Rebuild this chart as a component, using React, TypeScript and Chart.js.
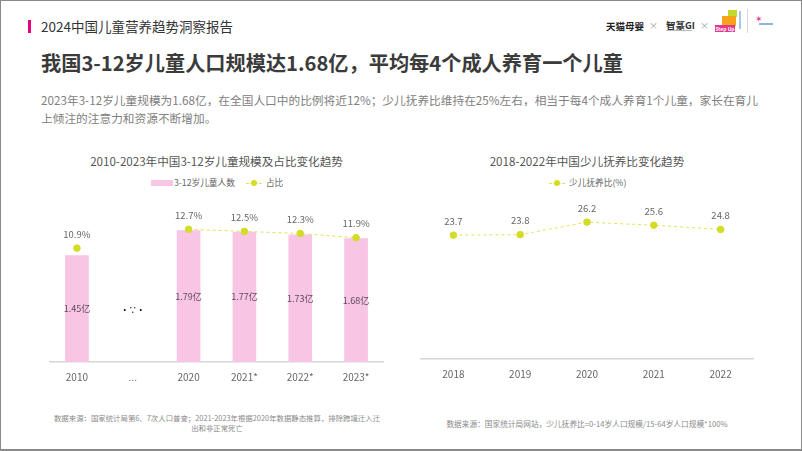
import React, { useEffect, useRef } from "react";
import { Chart, registerables } from "chart.js";

Chart.register(...registerables);

const FONT = "'Noto Sans CJK SC', 'Noto Sans', sans-serif";

// Left chart data
const leftCategories = ["2010", "...", "2020", "2021*", "2022*", "2023*"];
const childrenPopulation = [1.45, null, 1.79, 1.77, 1.73, 1.68]; // 亿
const childrenShare = [10.9, null, 12.7, 12.5, 12.3, 11.9]; // %

// Right chart data
const rightCategories = ["2018", "2019", "2020", "2021", "2022"];
const dependencyRatio = [23.7, 23.8, 26.2, 25.6, 24.8];

const PINK = "#f9c5e5";
const LIME = "#d3dc26";
const LIME_LINE = "#dde35a";

const valueLabels = {
  id: "valueLabels",
  afterDatasetsDraw(chart: any) {
    const ctx = chart.ctx;
    ctx.save();
    chart.data.datasets.forEach((ds: any, di: number) => {
      const meta = chart.getDatasetMeta(di);
      if (meta.hidden) return;
      let lastLabelY: number | null = null;
      meta.data.forEach((el: any, i: number) => {
        const v = ds.data[i];
        if (v === null || v === undefined) {
          if (ds.gapMark && lastLabelY !== null) {
            ctx.font = `bold 8px ${FONT}`;
            ctx.fillStyle = "#111";
            ctx.textAlign = "center";
            ctx.textBaseline = "middle";
            ctx.fillText(ds.gapMark, el.x, lastLabelY + 1);
          }
          return;
        }
        const text = ds.labelFormat ? ds.labelFormat(v) : String(v);
        ctx.textAlign = "center";
        ctx.textBaseline = "middle";
        if (ds.labelMode === "center") {
          const y = (el.y + el.base) / 2;
          lastLabelY = y;
          ctx.font = `9px ${FONT}`;
          ctx.fillStyle = "#5b4a5b";
          ctx.fillText(text, el.x, y);
        } else {
          ctx.font = `9.5px ${FONT}`;
          ctx.fillStyle = "#666";
          ctx.fillText(text, el.x, el.y - 14);
        }
      });
    });
    ctx.restore();
  },
};

function LeftChart() {
  const ref = useRef<HTMLCanvasElement>(null);
  useEffect(() => {
    const chart = new Chart(ref.current as HTMLCanvasElement, {
      type: "bar",
      data: {
        labels: leftCategories,
        datasets: [
          {
            type: "line",
            label: "占比",
            data: childrenShare,
            yAxisID: "y2",
            borderColor: LIME_LINE,
            borderWidth: 1,
            borderDash: [3, 3],
            pointRadius: 3.3,
            pointBackgroundColor: LIME,
            pointBorderColor: LIME,
            pointBorderWidth: 1,
            spanGaps: false,
            order: 0,
            labelMode: "top",
            labelFormat: (v: number) => v.toFixed(1) + "%",
          } as any,
          {
            type: "bar",
            label: "3-12岁儿童人数",
            data: childrenPopulation,
            yAxisID: "y",
            backgroundColor: PINK,
            barThickness: 23,
            order: 1,
            labelMode: "center",
            labelFormat: (v: number) => v.toFixed(2) + "亿",
            gapMark: "·∵·",
          } as any,
        ],
      },
      options: {
        animation: false,
        responsive: true,
        maintainAspectRatio: false,
        layout: { padding: 0, autoPadding: false },
        plugins: { legend: { display: false }, title: { display: false }, tooltip: { enabled: false } },
        scales: {
          x: {
            offset: true,
            grid: { display: false, drawTicks: false },
            border: { display: true, color: "#d6d6d6", width: 1.5 },
            ticks: { color: "#666", font: { size: 10, family: FONT }, padding: 9 },
          },
          y: { display: false, min: 0, max: 2.26 },
          y2: { display: false, min: 0, max: 15.89, position: "right" },
        },
      },
      plugins: [valueLabels],
    });
    return () => chart.destroy();
  }, []);
  return <canvas ref={ref} />;
}

function RightChart() {
  const ref = useRef<HTMLCanvasElement>(null);
  useEffect(() => {
    const chart = new Chart(ref.current as HTMLCanvasElement, {
      type: "line",
      data: {
        labels: rightCategories,
        datasets: [
          {
            label: "少儿抚养比(%)",
            data: dependencyRatio,
            borderColor: LIME_LINE,
            borderWidth: 1,
            borderDash: [3, 3],
            pointRadius: 3.3,
            pointBackgroundColor: LIME,
            pointBorderColor: LIME,
            pointBorderWidth: 1,
            labelMode: "top",
            labelFormat: (v: number) => v.toFixed(1),
          } as any,
        ],
      },
      options: {
        animation: false,
        responsive: true,
        maintainAspectRatio: false,
        layout: { padding: 0, autoPadding: false },
        plugins: { legend: { display: false }, title: { display: false }, tooltip: { enabled: false } },
        scales: {
          x: {
            offset: true,
            grid: { display: false, drawTicks: false },
            border: { display: true, color: "#d6d6d6", width: 1.5 },
            ticks: { color: "#666", font: { size: 10, family: FONT }, padding: 9 },
          },
          y: { display: false, min: 0, max: 31.2 },
        },
      },
      plugins: [valueLabels],
    });
    return () => chart.destroy();
  }, []);
  return <canvas ref={ref} />;
}

const abs = (s: React.CSSProperties): React.CSSProperties => ({ position: "absolute", ...s });

function LineSymbol() {
  return (
    <span style={{ position: "relative", display: "inline-block", width: 16, height: 8, marginRight: 4, verticalAlign: "middle" }}>
      <span style={abs({ left: 0, right: 0, top: 3.5, borderTop: `1px dashed ${LIME_LINE}` })} />
      <span style={abs({ left: 5, top: 1, width: 6, height: 6, borderRadius: 3, background: LIME })} />
    </span>
  );
}

export default function App() {
  return (
    <div
      style={abs({
        left: 0,
        top: 0,
        width: 802,
        height: 451,
        boxSizing: "border-box",
        border: "1px solid #8a8a8a",
        borderBottomWidth: 2,
        background: "#fff",
        fontFamily: FONT,
        overflow: "hidden",
      })}
    >
      {/* header */}
      <div style={abs({ left: 27, top: 19, width: 3, height: 13, background: "#e4007f" })} />
      <div style={abs({ left: 40, top: 15, fontSize: 13.5, color: "#333", lineHeight: "20px", whiteSpace: "nowrap" })}>
        2024中国儿童营养趋势洞察报告
      </div>

      {/* logos */}
      <div style={abs({ left: 605, top: 18, fontSize: 9.5, fontWeight: 700, color: "#222", lineHeight: "14px", whiteSpace: "nowrap" })}>天猫母婴</div>
      <div style={abs({ left: 648, top: 18, fontSize: 9, color: "#999", lineHeight: "14px" })}>×</div>
      <div style={abs({ left: 665, top: 17, fontSize: 9.5, fontWeight: 700, color: "#333", lineHeight: "14px", whiteSpace: "nowrap" })}>智篆GI</div>
      <div style={abs({ left: 665, top: 29, width: 26, height: 1, background: "#bbb" })} />
      <div style={abs({ left: 699, top: 18, fontSize: 9, color: "#999", lineHeight: "14px" })}>×</div>
      <div style={abs({ left: 727, top: 9, width: 9, height: 7, background: "#c6d82e" })} />
      <div style={abs({ left: 721, top: 15, width: 14, height: 10, background: "#f7a21b" })} />
      <div style={abs({ left: 714, top: 24, width: 20, height: 7, background: "#e6358b", color: "#fff", fontSize: 5, lineHeight: "7px", fontWeight: 700, textAlign: "center", whiteSpace: "nowrap" })}>Step Up</div>
      <div style={abs({ left: 738, top: 10, width: 2, height: 18, background: "#a7c8e8" })} />
      <div style={abs({ left: 746, top: 8, width: 1, height: 24, background: "#d8d8d8" })} />
      <div style={abs({ left: 754, top: 13, fontSize: 9, color: "#e6358b", lineHeight: "10px" })}>✶</div>
      <div style={abs({ left: 758, top: 22, width: 14, height: 1.5, background: "#8fb5dd" })} />

      {/* heading */}
      <div style={abs({ left: 40, top: 47, fontSize: 20.2, fontWeight: 700, color: "#3b3b3b", lineHeight: "30px", whiteSpace: "nowrap" })}>
        我国3-12岁儿童人口规模达1.68亿，平均每4个成人养育一个儿童
      </div>
      <div style={abs({ left: 40, top: 90, fontSize: 11.7, color: "#808080", lineHeight: "18px", whiteSpace: "nowrap" })}>
        2023年3-12岁儿童规模为1.68亿，在全国人口中的比例将近12%；少儿抚养比维持在25%左右，相当于每4个成人养育1个儿童，家长在育儿
        <br />
        上倾注的注意力和资源不断增加。
      </div>

      {/* left chart */}
      <div style={abs({ left: 48, width: 335, top: 151, textAlign: "center", fontSize: 11.6, color: "#555", lineHeight: "18px", whiteSpace: "nowrap" })}>
        2010-2023年中国3-12岁儿童规模及占比变化趋势
      </div>
      <div style={abs({ left: 150, top: 176, fontSize: 8.7, color: "#666", lineHeight: "12px", whiteSpace: "nowrap", display: "flex", alignItems: "center" })}>
        <span style={{ display: "inline-block", width: 22, height: 6, background: PINK, marginRight: 1 }} />
        <span style={{ marginRight: 11 }}>3-12岁儿童人数</span>
        <LineSymbol />
        <span>占比</span>
      </div>
      <div style={abs({ left: 48, top: 195, width: 335, height: 196 })}>
        <LeftChart />
      </div>
      <div style={abs({ left: 46, width: 340, top: 412, textAlign: "center", fontSize: 7.4, color: "#8a8a8a", lineHeight: "10px", whiteSpace: "nowrap" })}>
        数据来源：国家统计局第6、7次人口普查；2021-2023年根据2020年数据静态推算，排除跨境迁入迁
        <br />
        出和非正常死亡
      </div>

      {/* right chart */}
      <div style={abs({ left: 419, width: 334, top: 151, textAlign: "center", fontSize: 11.6, color: "#555", lineHeight: "18px", whiteSpace: "nowrap" })}>
        2018-2022年中国少儿抚养比变化趋势
      </div>
      <div style={abs({ left: 548, top: 176, fontSize: 8.7, color: "#666", lineHeight: "12px", whiteSpace: "nowrap", display: "flex", alignItems: "center" })}>
        <LineSymbol />
        <span>少儿抚养比(%)</span>
      </div>
      <div style={abs({ left: 419, top: 195, width: 334, height: 193 })}>
        <RightChart />
      </div>
      <div style={abs({ left: 419, width: 334, top: 418, textAlign: "center", fontSize: 7.7, color: "#8a8a8a", lineHeight: "10px", whiteSpace: "nowrap" })}>
        数据来源：国家统计局网站，少儿抚养比=0-14岁人口规模/15-64岁人口规模*100%
      </div>
    </div>
  );
}
